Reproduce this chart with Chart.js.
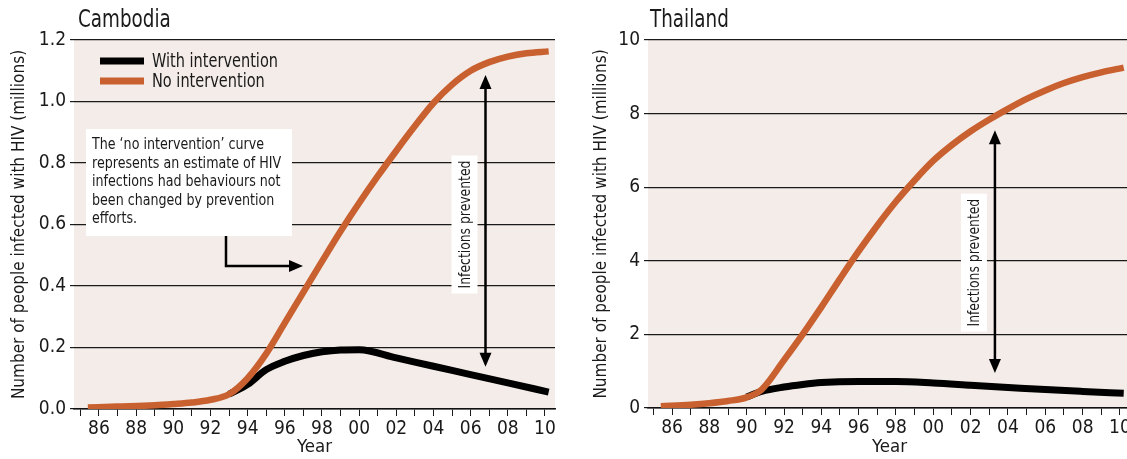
<!DOCTYPE html>
<html>
<head>
<meta charset="utf-8">
<script src="https://cdn.jsdelivr.net/npm/chart.js@4.4.0/dist/chart.umd.min.js"></script>
<style>
  html, body { margin: 0; padding: 0; background: #fff; overflow: hidden; }
  #wrap { position: relative; width: 1127px; height: 459px; overflow: hidden; }
  .panel { position: absolute; top: 0; }
</style>
</head>
<body>
<div id="wrap">
  <div class="panel" style="left:0"><canvas id="cambodia" width="565" height="459"></canvas></div>
  <div class="panel" style="left:575px"><canvas id="thailand" width="560" height="459"></canvas></div>
</div>
<script>
const FONT = "'Liberation Sans Narrow', 'DejaVu Sans Condensed', 'Arial Narrow', sans-serif";
const INK = '#1a1a1a';
const ORANGE = '#c8602f';
const PANEL_BG = '#f4ece8';

// --- data (millions of people) ---
const seriesNames = ['With intervention', 'No intervention'];

const cambodiaNoYears = [1985.4, 1987, 1989, 1990, 1991, 1992, 1993, 1994, 1995, 1996, 1997, 1998, 1999, 2000, 2001, 2002, 2003, 2004, 2005, 2006, 2007, 2008, 2009, 2010.2];
const cambodiaNo = [0.005, 0.008, 0.012, 0.016, 0.021, 0.03, 0.048, 0.1, 0.18, 0.28, 0.38, 0.48, 0.578, 0.67, 0.757, 0.84, 0.92, 0.995, 1.055, 1.1, 1.128, 1.146, 1.157, 1.163];
const cambodiaWithYears = [1993, 1994, 1995, 1996, 1997, 1998, 1999, 2000, 2002, 2004, 2006, 2008, 2010.2];
const cambodiaWith = [0.048, 0.08, 0.128, 0.155, 0.174, 0.186, 0.192, 0.193, 0.166, 0.139, 0.112, 0.085, 0.055];

const thailandNoYears = [1985.4, 1987, 1988, 1989, 1990, 1990.8, 1992, 1993, 1994, 1995, 1996, 1997, 1998, 1999, 2000, 2001, 2002, 2003, 2004, 2005, 2006, 2007, 2008, 2009, 2010.2];
const thailandNo = [0.05, 0.09, 0.13, 0.19, 0.29, 0.5, 1.3, 2.0, 2.74, 3.51, 4.26, 4.96, 5.61, 6.19, 6.72, 7.15, 7.52, 7.84, 8.13, 8.4, 8.63, 8.83, 8.99, 9.12, 9.25];
const thailandWithYears = [1990, 1990.8, 1992, 1993, 1994, 1996, 1998, 2000, 2002, 2004, 2006, 2008, 2010.2];
const thailandWith = [0.3, 0.45, 0.57, 0.64, 0.69, 0.72, 0.72, 0.68, 0.62, 0.56, 0.5, 0.45, 0.4];

const xLabelYears = [1986, 1988, 1990, 1992, 1994, 1996, 1998, 2000, 2002, 2004, 2006, 2008, 2010];
const xTickLabels = ['86', '88', '90', '92', '94', '96', '98', '00', '02', '04', '06', '08', '10'];
const yTitle = 'Number of people infected with HIV (millions)';
const noteLines = [
    'The \u2018no intervention\u2019 curve',
    'represents an estimate of HIV',
    'infections had behaviours not',
    'been changed by prevention',
    'efforts.'
];

const toPoints = (xs, ys) => xs.map((x, i) => ({ x, y: ys[i] }));

// text squeezed horizontally, to get near the condensed face of the original
function narrowText(ctx, text, x, y, sx) {
    ctx.save();
    ctx.translate(x, y);
    ctx.scale(sx, 1);
    ctx.fillText(text, 0, 0);
    ctx.restore();
}

// filled triangle arrow head with its tip at (x, y)
function arrowHead(ctx, x, y, dir, len = 14, half = 6) {
    ctx.beginPath();
    if (dir === 'up') { ctx.moveTo(x, y); ctx.lineTo(x - half, y + len); ctx.lineTo(x + half, y + len); }
    if (dir === 'down') { ctx.moveTo(x, y); ctx.lineTo(x - half, y - len); ctx.lineTo(x + half, y - len); }
    if (dir === 'right') { ctx.moveTo(x, y); ctx.lineTo(x - len, y - half); ctx.lineTo(x - len, y + half); }
    ctx.closePath();
    ctx.fill();
}

function decorPlugin(o) {
    return {
        id: 'decor',
        beforeDraw(chart) {
            const { ctx, chartArea: a } = chart;
            ctx.save();
            ctx.fillStyle = PANEL_BG;
            ctx.fillRect(a.left, a.top, a.right - a.left, a.bottom - a.top);
            ctx.restore();
        },
        afterDraw(chart) {
            const { ctx, chartArea: a, scales } = chart;
            ctx.save();
            ctx.fillStyle = INK;
            ctx.strokeStyle = INK;
            ctx.textBaseline = 'middle';
            ctx.textAlign = 'left';

            // panel title
            ctx.font = `24px ${FONT}`;
            narrowText(ctx, o.title, a.left + o.titleDx, 21, 0.85);

            // legend (left panel only)
            if (o.legend) {
                const cols = ['#000', ORANGE];
                seriesNames.forEach((name, i) => {
                    const y = a.top + 21 + i * 20;
                    ctx.strokeStyle = cols[i];
                    ctx.lineWidth = 7;
                    ctx.beginPath();
                    ctx.moveTo(a.left + 26, y);
                    ctx.lineTo(a.left + 70, y);
                    ctx.stroke();
                    ctx.fillStyle = INK;
                    ctx.font = `19px ${FONT}`;
                    narrowText(ctx, name, a.left + 78, y + 1, 0.85);
                });
            }

            // explanatory note with bent arrow
            if (o.note) {
                const bx = a.left + 12, by = a.top + 89;
                ctx.fillStyle = '#fff';
                ctx.fillRect(bx, by, 206, 107);
                ctx.fillStyle = INK;
                ctx.font = `16px ${FONT}`;
                noteLines.forEach((t, i) => narrowText(ctx, t, a.left + 18, a.top + 105 + i * 18.5, 0.88));
                ctx.strokeStyle = '#000';
                ctx.fillStyle = '#000';
                ctx.lineWidth = 2.5;
                ctx.beginPath();
                ctx.moveTo(a.left + 152, by + 107);
                ctx.lineTo(a.left + 152, a.top + 226);
                ctx.lineTo(a.left + 218, a.top + 226);
                ctx.stroke();
                arrowHead(ctx, a.left + 229, a.top + 226, 'right', 14, 6);
            }

            // "Infections prevented" double arrow
            const ax = scales.x.getPixelForValue(o.arrow.x);
            const yTop = scales.y.getPixelForValue(o.arrow.top);
            const yBot = scales.y.getPixelForValue(o.arrow.bottom);
            const yMid = scales.y.getPixelForValue(o.arrow.label);
            ctx.strokeStyle = '#000';
            ctx.fillStyle = '#000';
            ctx.lineWidth = 2.5;
            ctx.beginPath();
            ctx.moveTo(ax, yTop + 10);
            ctx.lineTo(ax, yBot - 10);
            ctx.stroke();
            arrowHead(ctx, ax, yTop, 'up');
            arrowHead(ctx, ax, yBot, 'down');

            ctx.fillStyle = '#fff';
            ctx.fillRect(ax - 34, yMid - 69, 26, 138);
            ctx.translate(ax - 21, yMid);
            ctx.rotate(-Math.PI / 2);
            ctx.fillStyle = INK;
            ctx.font = `16px ${FONT}`;
            ctx.textAlign = 'center';
            narrowText(ctx, 'Infections prevented', 0, 1, 0.86);
            ctx.restore();
        }
    };
}

function makeChart(id, cfg) {
    const ctx = document.getElementById(id).getContext('2d');
    return new Chart(ctx, {
        type: 'line',
        data: {
            datasets: [
                {
                    label: seriesNames[1],
                    data: toPoints(cfg.noYears, cfg.no),
                    borderColor: ORANGE,
                    borderWidth: 6.5,
                    cubicInterpolationMode: 'monotone',
                    pointRadius: 0,
                    order: 0
                },
                {
                    label: seriesNames[0],
                    data: toPoints(cfg.withYears, cfg.with),
                    borderColor: '#000',
                    borderWidth: 7,
                    cubicInterpolationMode: 'monotone',
                    pointRadius: 0,
                    order: 1
                }
            ]
        },
        options: {
            responsive: false,
            animation: false,
            events: [],
            layout: { padding: { top: 40, right: cfg.padRight, left: 0, bottom: 0 } },
            plugins: { legend: { display: false }, tooltip: { enabled: false } },
            scales: {
                x: {
                    type: 'linear',
                    min: cfg.xMin,
                    max: cfg.xMax,
                    afterBuildTicks: (s) => {
                        const t = [];
                        for (let yr = 1985; yr <= 2010; yr++) t.push({ value: yr });
                        s.ticks = t;
                    },
                    afterFit: (s) => { s.height = cfg.xHeight; },
                    grid: { drawOnChartArea: false, tickLength: 7, color: INK, lineWidth: 1 },
                    border: { display: true, color: '#111', width: 1.5 },
                    ticks: {
                        autoSkip: false,
                        maxRotation: 0,
                        padding: 2,
                        color: INK,
                        font: { family: FONT, size: 19 },
                        callback: (v) => {
                            const i = xLabelYears.indexOf(v);
                            return i >= 0 ? xTickLabels[i] : '';
                        }
                    },
                    title: { display: true, text: 'Year', color: INK, font: { family: FONT, size: 18.5 }, padding: { top: 0, bottom: 1 } }
                },
                y: {
                    min: 0,
                    max: cfg.yMax,
                    afterFit: (s) => { s.width = cfg.yWidth; },
                    grid: { color: INK, lineWidth: 1.2, tickLength: 4 },
                    border: { display: false },
                    ticks: {
                        stepSize: cfg.yStep,
                        padding: 4,
                        color: INK,
                        font: { family: FONT, size: 19 },
                        callback: cfg.yFmt
                    },
                    title: { display: true, text: yTitle, color: INK, font: { family: FONT, size: 17 }, padding: { top: cfg.yTitlePad, bottom: 0 } }
                }
            }
        },
        plugins: [decorPlugin(cfg.decor)]
    });
}

makeChart('cambodia', {
    noYears: cambodiaNoYears, no: cambodiaNo,
    withYears: cambodiaWithYears, with: cambodiaWith,
    xMin: 1984.655, xMax: 2010.54, padRight: 10,
    xHeight: 50, yWidth: 74, yMax: 1.2, yStep: 0.2,
    yFmt: (v) => v.toFixed(1), yTitlePad: 9,
    decor: { title: 'Cambodia', titleDx: 4, legend: true, note: true,
             arrow: { x: 2006.8, top: 1.086, bottom: 0.137, label: 0.6 } }
});

makeChart('thailand', {
    noYears: thailandNoYears, no: thailandNo,
    withYears: thailandWithYears, with: thailandWith,
    xMin: 1984.714, xMax: 2010.59, padRight: 4,
    xHeight: 51, yWidth: 73, yMax: 10, yStep: 2,
    yFmt: (v) => String(v), yTitlePad: 16,
    decor: { title: 'Thailand', titleDx: 2, legend: false, note: false,
             arrow: { x: 2003.3, top: 7.55, bottom: 0.95, label: 3.95 } }
});
</script>
</body>
</html>
